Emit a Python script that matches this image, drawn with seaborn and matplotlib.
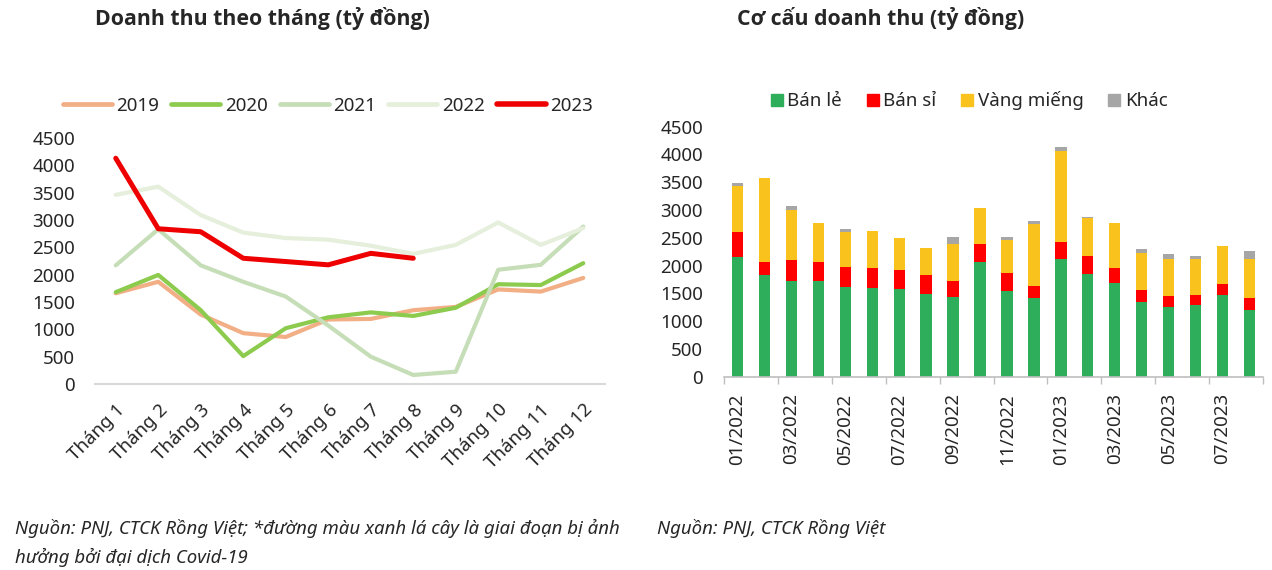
import numpy as np
import pandas as pd
import matplotlib
matplotlib.use("Agg")
import matplotlib.pyplot as plt
from matplotlib.lines import Line2D
import seaborn as sns

# ---------------- data ----------------
months = ["Tháng 1", "Tháng 2", "Tháng 3", "Tháng 4", "Tháng 5", "Tháng 6",
          "Tháng 7", "Tháng 8", "Tháng 9", "Tháng 10", "Tháng 11", "Tháng 12"]
rev_2019 = [1660, 1870, 1270, 930, 860, 1180, 1190, 1350, 1410, 1730, 1690, 1940]
rev_2020 = [1680, 1995, 1350, 510, 1020, 1220, 1310, 1245, 1395, 1825, 1810, 2210]
rev_2021 = [2170, 2830, 2170, 1870, 1600, 1070, 500, 165, 225, 2090, 2180, 2880]
rev_2022 = [3460, 3610, 3090, 2770, 2670, 2640, 2530, 2380, 2545, 2955, 2545, 2850]
rev_2023 = [4130, 2840, 2785, 2300, 2240, 2180, 2390, 2300]

periods = ["01/2022", "02/2022", "03/2022", "04/2022", "05/2022", "06/2022",
           "07/2022", "08/2022", "09/2022", "10/2022", "11/2022", "12/2022",
           "01/2023", "02/2023", "03/2023", "04/2023", "05/2023", "06/2023",
           "07/2023", "08/2023"]
ban_le = [2160, 1830, 1728, 1722, 1620, 1596, 1578, 1488, 1434, 2070,
          1548, 1416, 2118, 1848, 1686, 1338, 1254, 1290, 1470, 1200]
ban_si = [438, 240, 372, 348, 348, 354, 336, 342, 288, 318,
          324, 216, 300, 324, 270, 222, 198, 180, 204, 210]
vang_mieng = [833, 1500, 900, 690, 642, 670, 576, 480, 660, 654,
              588, 1110, 1643, 690, 804, 672, 666, 654, 684, 702]
khac = [48, 0, 71, 0, 48, 10, 10, 10, 132, 0,
        54, 60, 66, 8, 10, 66, 96, 54, 0, 150]

# ---------------- style ----------------
sns.set_theme(style="white")
plt.rcParams["font.family"] = ["Noto Sans", "DejaVu Sans"]
plt.rcParams["axes.linewidth"] = 1.0

W, H = 1272, 570
fig = plt.figure(figsize=(W / 100, H / 100), dpi=100)

FS = 13.5

# ---------------- left chart ----------------
axL = fig.add_axes([94.5 / W, (H - 384) / H, 510 / W, 246 / H])
series = [("2019", rev_2019, "#F2AE85", 3.0),
          ("2020", rev_2020, "#8CCB4E", 3.0),
          ("2021", rev_2021, "#C6DEB7", 3.0),
          ("2022", rev_2022, "#E5EFDC", 3.0),
          ("2023", rev_2023, "#EE0000", 3.6)]
handles = []
for name, vals, col, lw in series:
    df = pd.DataFrame({"x": np.arange(len(vals)), "y": vals})
    sns.lineplot(data=df, x="x", y="y", ax=axL, color=col, linewidth=lw,
                 legend=False, solid_capstyle="round")
    handles.append(Line2D([0], [0], color=col, lw=lw + 0.4, label=name))

axL.set_xlim(-0.5, 11.5)
axL.set_ylim(0, 4500)
axL.set_yticks(np.arange(0, 4501, 500))
axL.set_xticks(np.arange(12))
axL.set_xticklabels(months, rotation=45, ha="right", rotation_mode="anchor",
                    fontsize=FS)
axL.set_xlabel("")
axL.set_ylabel("")
for s in ["top", "right", "left"]:
    axL.spines[s].set_visible(False)
axL.spines["bottom"].set_color("#D9D9D9")
axL.spines["bottom"].set_linewidth(1.5)
axL.tick_params(axis="y", length=0, pad=14, labelsize=FS)
axL.tick_params(axis="x", length=0, pad=12, labelsize=FS)
fig.legend(handles=handles, loc="center", bbox_to_anchor=(328 / W, (H - 106) / H),
           ncol=5, frameon=False, fontsize=FS, handlelength=2.6,
           handletextpad=0.25, columnspacing=0.65)

# ---------------- right chart ----------------
axR = fig.add_axes([724 / W, (H - 376.7) / H, 539 / W, 250 / H])
le = np.array(ban_le, dtype=float)
si = np.array(ban_si, dtype=float)
vm = np.array(vang_mieng, dtype=float)
kh = np.array(khac, dtype=float)
layers = [("Khác", le + si + vm + kh, "#A6A6A6"),
          ("Vàng miếng", le + si + vm, "#FAC21C"),
          ("Bán sỉ", le + si, "#FF0000"),
          ("Bán lẻ", le, "#2EAD5A")]
for name, vals, col in layers:
    dfb = pd.DataFrame({"p": periods, "v": vals})
    sns.barplot(data=dfb, x="p", y="v", order=periods, color=col, ax=axR,
                width=0.42, saturation=1, linewidth=0, errorbar=None)

axR.set_xlim(-0.5, 19.5)
axR.set_ylim(0, 4500)
axR.set_yticks(np.arange(0, 4501, 500))
axR.set_xticks(np.arange(0, 20, 2))
axR.set_xticklabels(periods[::2], rotation=90, fontsize=FS)
axR.set_xticks(np.arange(-0.5, 20, 2), minor=True)
axR.set_xlabel("")
axR.set_ylabel("")
for s in ["top", "right", "left"]:
    axR.spines[s].set_visible(False)
axR.spines["bottom"].set_color("#BFBFBF")
axR.spines["bottom"].set_linewidth(1.2)
axR.tick_params(axis="y", length=0, pad=15, labelsize=FS)
axR.tick_params(axis="x", which="major", length=0, pad=12, labelsize=FS)
axR.tick_params(axis="x", which="minor", length=5, width=1.0, color="#BFBFBF",
                direction="out", bottom=True)

leg_items = [("Bán lẻ", "#2EAD5A"), ("Bán sỉ", "#FF0000"),
             ("Vàng miếng", "#FAC21C"), ("Khác", "#A6A6A6")]
hR = [Line2D([0], [0], marker="s", linestyle="none", markersize=9,
             markerfacecolor=c, markeredgecolor=c, label=n) for n, c in leg_items]
fig.legend(handles=hR, loc="center", bbox_to_anchor=(969 / W, (H - 101) / H),
           ncol=4, frameon=False, fontsize=FS, handlelength=0.7,
           handletextpad=0.2, columnspacing=1.3)

# ---------------- titles & notes ----------------
title_font = ["Open Sans", "Lato", "DejaVu Sans"]
fig.text(262 / W, (H - 19) / H, "Doanh thu theo tháng (tỷ đồng)", ha="center",
         va="center", fontsize=15.3, fontweight="bold", family=title_font)
fig.text(881 / W, (H - 19) / H, "Cơ cấu doanh thu (tỷ đồng)", ha="center",
         va="center", fontsize=15.3, fontweight="bold", family=title_font)
note_font = ["Noto Sans", "DejaVu Sans"]
NFS = 13.4
fig.text(15 / W, (H - 528) / H,
         "Nguồn: PNJ, CTCK Rồng Việt; *đường màu xanh lá cây là giai đoạn bị ảnh",
         ha="left", va="center", fontsize=NFS, style="italic", family=note_font)
fig.text(15 / W, (H - 557) / H, "hưởng bởi đại dịch Covid-19",
         ha="left", va="center", fontsize=NFS, style="italic", family=note_font)
fig.text(657 / W, (H - 528) / H, "Nguồn: PNJ, CTCK Rồng Việt",
         ha="left", va="center", fontsize=NFS, style="italic", family=note_font)

fig.savefig("out.png", dpi=100)
